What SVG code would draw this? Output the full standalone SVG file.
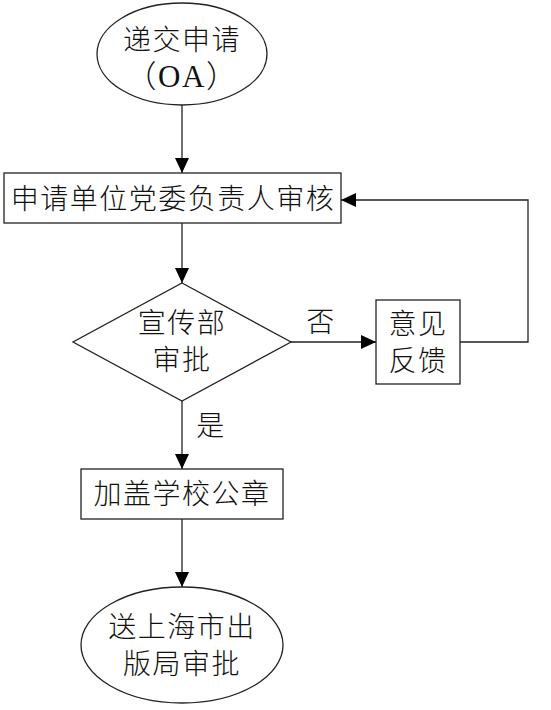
<svg xmlns="http://www.w3.org/2000/svg" width="551" height="710" viewBox="0 0 551 710">
<defs>
<style>
.shape{fill:#fff;stroke:#222;stroke-width:1.3}
.t{font-family:"Liberation Serif","Noto Sans CJK SC",serif;font-size:28px;font-weight:300;fill:#111;text-anchor:middle;dominant-baseline:central;letter-spacing:1.5px}
.oa{font-size:31px}
.c{fill:none;stroke:#222;stroke-width:1.3}
</style>
<marker id="ah" markerWidth="16" markerHeight="14" refX="15" refY="7" orient="auto" markerUnits="userSpaceOnUse">
<path d="M0,0 L15,7 L0,14 Z" fill="#000"/>
</marker>
</defs>
<rect width="551" height="710" fill="#fff"/>
<g id="connectors">
<line class="c" x1="182" y1="105" x2="182" y2="173" marker-end="url(#ah)"/>
<line class="c" x1="182" y1="223" x2="182" y2="283" marker-end="url(#ah)"/>
<line class="c" x1="291" y1="342" x2="376" y2="342" marker-end="url(#ah)"/>
<polyline class="c" points="460,342 528,342 528,200 341,200" marker-end="url(#ah)"/>
<line class="c" x1="182" y1="401" x2="182" y2="469" marker-end="url(#ah)"/>
<line class="c" x1="182" y1="519" x2="182" y2="587" marker-end="url(#ah)"/>
<text class="t" x="321" y="322">否</text>
<text class="t" x="211" y="426">是</text>
</g>
<g id="start">
<ellipse class="shape" cx="182" cy="54" rx="85" ry="51"/>
<text class="t" x="182" y="40">递交申请</text>
<text class="t oa" x="182" y="76">（OA）</text>
</g>
<g id="review">
<rect class="shape" x="4" y="173" width="337" height="50"/>
<text class="t" x="173" y="199">申请单位党委负责人审核</text>
</g>
<g id="decision">
<polygon class="shape" points="182,283 291,342 182,401 73,342"/>
<text class="t" x="182" y="323">宣传部</text>
<text class="t" x="182" y="360">审批</text>
</g>
<g id="feedback">
<rect class="shape" x="376" y="300" width="84" height="84"/>
<text class="t" x="418" y="324">意见</text>
<text class="t" x="418" y="361">反馈</text>
</g>
<g id="stamp">
<rect class="shape" x="81" y="469" width="202" height="50"/>
<text class="t" x="182" y="494">加盖学校公章</text>
</g>
<g id="end">
<ellipse class="shape" cx="182" cy="645" rx="101" ry="58"/>
<text class="t" x="182" y="627">送上海市出</text>
<text class="t" x="182" y="664">版局审批</text>
</g>
</svg>
